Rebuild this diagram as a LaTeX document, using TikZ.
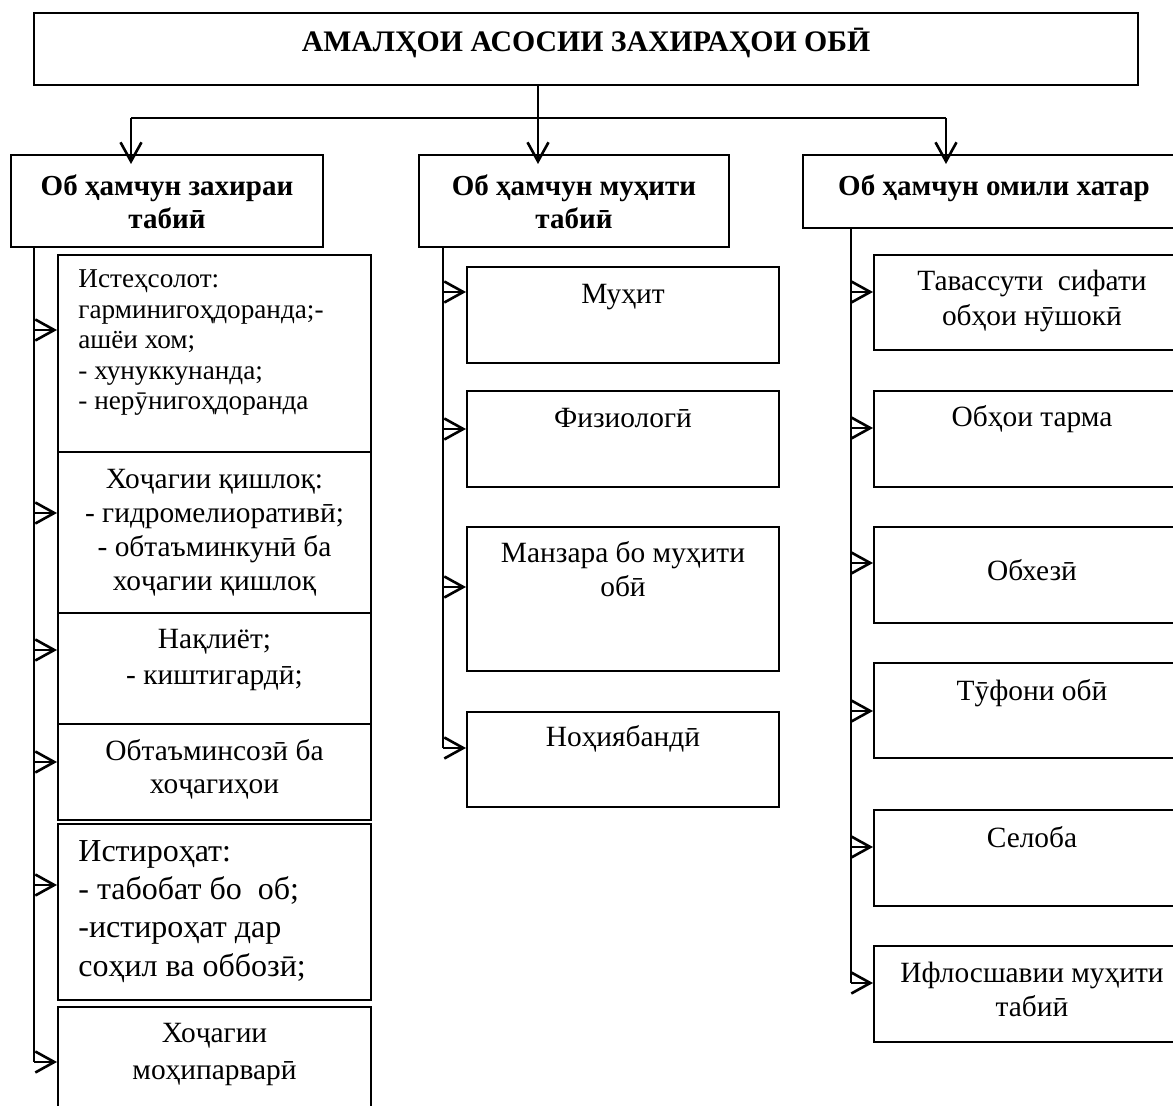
\documentclass[tikz,border=0pt]{standalone}
\usepackage{fontspec}
\setmainfont{Liberation Serif}
\usetikzlibrary{arrows.meta,fit}
\tikzset{
  box/.style={draw, line width=1pt, inner sep=0pt, fit={#1}},
  txt/.style={inner sep=0pt, anchor=base},
  arr/.style={line width=1pt, -{Straight Barb[length=9.5pt,width=10.5pt,line width=1.3pt]}},
  ln/.style={line width=1pt}
}
\newcommand\ctxt[4]{\parbox[t]{#1}{\centering\fontsize{#2}{#3}\selectfont #4}}
\newcommand\ltxt[4]{\parbox[t]{#1}{\raggedright\fontsize{#2}{#3}\selectfont #4}}
\begin{document}
\begin{tikzpicture}[x=0.5pt,y=-0.5pt]
\useasboundingbox (0,0) rectangle (1173,1106);
\clip (0,0) rectangle (1173,1106);

% title
\node[box={(34,13) (1138,85)}] (title) {};
\node[txt] (tTitle) at ([yshift=-20pt]title.north) {\fontsize{14.9}{17}\selectfont\bfseries АМАЛҲОИ АСОСИИ ЗАХИРАҲОИ ОБӢ};

% headers
\node[box={(11,155) (323,247)}] (hL) {};
\node[box={(419,155) (729,247)}] (hM) {};
\node[box={(803,155) (1185,228)}] (hR) {};
\node[txt] (thL) at ([yshift=-21pt]hL.north) {\ctxt{152pt}{14.5}{16.5}{\bfseries Об ҳамчун захираи\\табиӣ}};
\node[txt] (thM) at ([yshift=-21pt]hM.north) {\ctxt{152pt}{14.5}{16.5}{\bfseries Об ҳамчун муҳити\\табиӣ}};
\node[txt] (thR) at ([yshift=-21pt]hR.north) {\ctxt{185pt}{14.5}{16.5}{\bfseries Об ҳамчун омили хатар}};

% top connectors
\coordinate (j0) at (538,118);
\coordinate (jL) at (131,118);
\coordinate (jR) at (946,118);
\draw[ln] (title.south -| j0) -- (j0);
\draw[ln] (jL) -- (jR);
\draw[arr, shorten >=-5pt] (jL) -- (jL |- hL.north);
\draw[arr, shorten >=-5pt] (j0) -- (j0 |- hM.north);
\draw[arr, shorten >=-5pt] (jR) -- (jR |- hR.north);

% left column
\node[box={(58,255) (371,452)}] (L1) {};
\node[box={(58,452) (371,613)}] (L2) {};
\node[box={(58,613) (371,724)}] (L3) {};
\node[box={(58,724) (371,820)}] (L4) {};
\node[box={(58,824) (371,1000)}] (L5) {};
\node[box={(58,1007) (371,1125)}] (L6) {};
\node[txt, anchor=base west] (tL1) at ([xshift=10.5pt,yshift=-17pt]L1.north west) {\ltxt{145pt}{13.6}{15.25}{Истеҳсолот:\\гарминигоҳдоранда;-\\ашёи хом;\\- хунуккунанда;\\- нерӯнигоҳдоранда}};
\node[txt] (tL2) at ([yshift=-19pt]L2.north) {\ctxt{154pt}{14.7}{17}{Хоҷагии қишлоқ:\\- гидромелиоративӣ;\\- обтаъминкунӣ ба\\хоҷагии қишлоқ}};
\node[txt] (tL3) at ([yshift=-18.5pt]L3.north) {\ctxt{154pt}{14.7}{17.5}{Нақлиёт;\\- киштигардӣ;}};
\node[txt] (tL4) at ([yshift=-19pt]L4.north) {\ctxt{154pt}{14.7}{16.5}{Обтаъминсозӣ ба\\хоҷагиҳои}};
\node[txt, anchor=base west] (tL5) at ([xshift=10.5pt,yshift=-19pt]L5.north west) {\ltxt{145pt}{16}{19.2}{Истироҳат:\\- табобат бо\ \ об;\\-истироҳат дар\\соҳил ва оббозӣ;}};
\node[txt] (tL6) at ([yshift=-18pt]L6.north) {\ctxt{154pt}{14.7}{18.5}{Хоҷагии\\моҳипарварӣ}};

\coordinate (la1) at (34,330);
\coordinate (la2) at (34,513);
\coordinate (la3) at (34,650);
\coordinate (la4) at (34,762);
\coordinate (la5) at (34,885);
\coordinate (la6) at (34,1062);
\draw[ln] (hL.south -| la1) -- (la6);
\foreach \i in {1,...,6} {\draw[arr] (la\i) -- (la\i -| L\i.west);}

% middle column
\node[box={(467,267) (779,363)}] (M1) {};
\node[box={(467,391) (779,487)}] (M2) {};
\node[box={(467,527) (779,671)}] (M3) {};
\node[box={(467,712) (779,807)}] (M4) {};
\node[txt] (tM1) at ([yshift=-19pt]M1.north) {\ctxt{154pt}{14.7}{17}{Муҳит}};
\node[txt] (tM2) at ([yshift=-19pt]M2.north) {\ctxt{154pt}{14.7}{17}{Физиологӣ}};
\node[txt] (tM3) at ([yshift=-18.5pt]M3.north) {\ctxt{154pt}{14.7}{17}{Манзара бо муҳити\\обӣ}};
\node[txt] (tM4) at ([yshift=-18pt]M4.north) {\ctxt{154pt}{14.7}{17}{Ноҳиябандӣ}};

\coordinate (ma1) at (443,292);
\coordinate (ma2) at (443,429);
\coordinate (ma3) at (443,587);
\coordinate (ma4) at (443,748);
\draw[ln] (hM.south -| ma1) -- (ma4);
\foreach \i in {1,...,4} {\draw[arr] (ma\i) -- (ma\i -| M\i.west);}

% right column
\node[box={(874,255) (1190,350)}] (R1) {};
\node[box={(874,391) (1190,487)}] (R2) {};
\node[box={(874,527) (1190,623)}] (R3) {};
\node[box={(874,663) (1190,758)}] (R4) {};
\node[box={(874,810) (1190,906)}] (R5) {};
\node[box={(874,946) (1190,1042)}] (R6) {};
\node[txt] (tR1) at ([yshift=-18.5pt]R1.north) {\ctxt{156pt}{14.7}{17.5}{Тавассути\ \ сифати\\обҳои нӯшокӣ}};
\node[txt] (tR2) at ([yshift=-18.5pt]R2.north) {\ctxt{156pt}{14.7}{17}{Обҳои тарма}};
\node[txt] (tR3) at ([yshift=-27.5pt]R3.north) {\ctxt{156pt}{14.7}{17}{Обхезӣ}};
\node[txt] (tR4) at ([yshift=-19.5pt]R4.north) {\ctxt{156pt}{14.7}{17}{Тӯфони обӣ}};
\node[txt] (tR5) at ([yshift=-19pt]R5.north) {\ctxt{156pt}{14.7}{17}{Селоба}};
\node[txt] (tR6) at ([yshift=-18.5pt]R6.north) {\ctxt{156pt}{14.7}{17}{Ифлосшавии муҳити\\табиӣ}};

\coordinate (ra1) at (851,292);
\coordinate (ra2) at (851,428);
\coordinate (ra3) at (851,563);
\coordinate (ra4) at (851,711);
\coordinate (ra5) at (851,847);
\coordinate (ra6) at (851,983);
\draw[ln] (hR.south -| ra1) -- (ra6);
\foreach \i in {1,...,6} {\draw[arr] (ra\i) -- (ra\i -| R\i.west);}
\end{tikzpicture}
\end{document}
